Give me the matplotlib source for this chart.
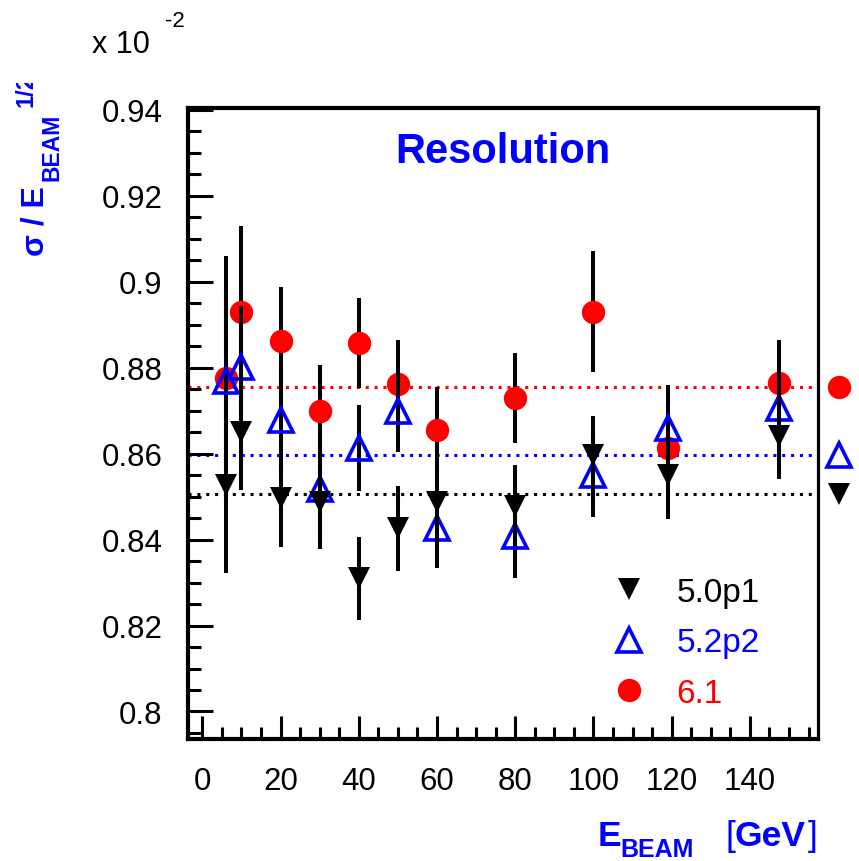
import matplotlib
matplotlib.use("Agg")
import matplotlib.pyplot as plt
from matplotlib.lines import Line2D
from matplotlib.patches import Rectangle
from matplotlib.ticker import MultipleLocator, FixedLocator, FuncFormatter
import numpy as np

plt.rcParams['font.family'] = ['Liberation Sans', 'DejaVu Sans']

# ---------------- data ----------------
energy = [6, 10, 20, 30, 40, 50, 60, 80, 100, 119, 147.5]

res_61 = [0.8775, 0.8929, 0.8863, 0.8698, 0.8857, 0.8762, 0.8656, 0.8729, 0.8930, 0.8612, 0.8764]
err_61 = [0.0285, 0.0200, 0.0124, 0.0107, 0.0105, 0.0102, 0.0100, 0.0104, 0.0141, 0.0090, 0.0101]

res_52 = [0.8770, 0.8801, 0.8679, 0.8518, 0.8613, 0.8698, 0.8428, 0.8409, 0.8551, 0.8660, 0.8705]
err_52 = [0.0210, 0.0142, 0.0110, 0.0105, 0.0099, 0.0095, 0.0094, 0.0098, 0.0099, 0.0100, 0.0095]

res_50 = [0.8527, 0.8651, 0.8496, 0.8488, 0.8310, 0.8426, 0.8488, 0.8479, 0.8596, 0.8550, 0.8641]
err_50 = [0.0204, 0.0135, 0.0113, 0.0109, 0.0097, 0.0099, 0.0100, 0.0095, 0.0092, 0.0102, 0.0100]

# mean (fit) values, shown as dotted lines and as markers beyond the frame
mean_61 = 0.8754
mean_52 = 0.8596
mean_50 = 0.8505
fit_energy = 162.7

labels = ['5.0p1', '5.2p2', '6.1']
x_ticks = [0, 20, 40, 60, 80, 100, 120, 140]
y_ticks = [0.80, 0.82, 0.84, 0.86, 0.88, 0.90, 0.92, 0.94]

# ---------------- figure ----------------
W, H = 859, 862
fig = plt.figure(figsize=(W / 100, H / 100), dpi=100)


def fx(px):
    return px / W


def fy(py):
    return 1 - py / H


L, R, T, B = 187.5, 818.3, 108.8, 740.3
ax = fig.add_axes([fx(L), fy(B), (R - L) / W, (B - T) / H])
ax.set_xlim(-3.8, 157.5)
ax.set_ylim(0.79353, 0.94044)

RED = (1, 0, 0)
BLUE = (0, 0, 1)
BLACK = (0, 0, 0)

dot = (0, (1.0, 1.9))
ax.axhline(mean_61, color=RED, lw=2.2, ls=dot, zorder=1.5)
ax.axhline(mean_52, color=BLUE, lw=2.2, ls=dot, zorder=1.5)
ax.axhline(mean_50, color=BLACK, lw=2.2, ls=dot, zorder=1.5)

eb = dict(ecolor='black', elinewidth=2.9, capsize=0, linestyle='none')
ax.errorbar(energy, res_61, yerr=err_61, marker='o', ms=16.8, mfc=RED, mec=RED,
            mew=0, zorder=3, **eb)
ax.errorbar(energy, res_52, yerr=err_52, marker='^', ms=17.5, mfc='none', mec=BLUE,
            mew=2.6, zorder=4, **eb)
ax.errorbar(energy, res_50, yerr=err_50, marker='v', ms=16.2, mfc=BLACK, mec=BLACK,
            mew=0, zorder=5, **eb)

ax.plot([fit_energy], [mean_61], marker='o', ms=16.8, mfc=RED, mec=RED, mew=0,
        ls='none', clip_on=False, zorder=3)
ax.plot([fit_energy], [mean_52], marker='^', ms=17.5, mfc='none', mec=BLUE, mew=2.6,
        ls='none', clip_on=False, zorder=4)
ax.plot([fit_energy], [mean_50], marker='v', ms=16.2, mfc=BLACK, mec=BLACK, mew=0,
        ls='none', clip_on=False, zorder=5)

# ---------------- axes styling ----------------
for side in ['left', 'bottom', 'top']:
    ax.spines[side].set_linewidth(3.0)
ax.spines['right'].set_linewidth(2.3)

ax.xaxis.set_major_locator(FixedLocator(x_ticks))
ax.xaxis.set_minor_locator(MultipleLocator(5))
ax.yaxis.set_major_locator(FixedLocator(y_ticks))
ax.yaxis.set_minor_locator(MultipleLocator(0.005))
ax.yaxis.set_major_formatter(FuncFormatter(lambda v, p: '%g' % round(v, 3)))
ax.xaxis.set_major_formatter(FuncFormatter(lambda v, p: '%g' % v))

ax.tick_params(axis='both', which='both', direction='in', top=False, right=False,
               width=2.2, labelsize=22.5)
ax.tick_params(axis='x', which='major', length=16.5, pad=19)
ax.tick_params(axis='x', which='minor', length=8.6)
ax.tick_params(axis='y', which='major', length=18, pad=18)
ax.tick_params(axis='y', which='minor', length=9.4)

# ---------------- legend ----------------
handles = [
    Line2D([], [], marker='v', ms=16.2, mfc=BLACK, mec=BLACK, mew=0, ls='none'),
    Line2D([], [], marker='^', ms=17.5, mfc='none', mec=BLUE, mew=2.6, ls='none'),
    Line2D([], [], marker='o', ms=16.8, mfc=RED, mec=RED, mew=0, ls='none'),
]
leg = ax.legend(handles, labels, loc='upper left',
                bbox_to_anchor=(fx(613), fy(578)), bbox_transform=fig.transFigure,
                frameon=False, fontsize=24, handlelength=0.95, handletextpad=0.95,
                labelspacing=0.58, borderpad=0, borderaxespad=0)
for t, c in zip(leg.get_texts(), [BLACK, BLUE, RED]):
    t.set_color(c)

# ---------------- texts ----------------
fig.text(fx(503), fy(163), 'Resolution', ha='center', va='baseline',
         fontsize=30, fontweight='bold', color=BLUE)

fig.text(fx(92), fy(53), 'x 10', ha='left', va='baseline', fontsize=22)
fig.text(fx(165), fy(27), '-2', ha='left', va='baseline', fontsize=16)

# x axis label
fig.text(fx(598), fy(846), 'E', ha='left', va='baseline', fontsize=25.5,
         fontweight='bold', color=BLUE)
fig.text(fx(620), fy(857), 'BEAM', ha='left', va='baseline', fontsize=18,
         fontweight='bold', color=BLUE)
fig.text(fx(725), fy(846), '[', ha='left', va='baseline', fontsize=25.5, color=BLUE)
fig.text(fx(735), fy(846), 'GeV', ha='left', va='baseline', fontsize=25.5,
         fontweight='bold', color=BLUE)
fig.text(fx(808), fy(846), ']', ha='left', va='baseline', fontsize=25.5, color=BLUE)

# y axis label (rotated; its end is cut off at the top as in the original)
ylab = [
    (fx(43), fy(256), '\u03c3 / E', 23),
    (fx(58), fy(181), 'BEAM', 16.5),
    (fx(33), fy(107), '1/2', 17),
]
for xx, yy, s, fs in ylab:
    fig.text(xx, yy, s, rotation=90, rotation_mode='anchor', ha='left',
             va='baseline', fontsize=fs, fontweight='bold', color=BLUE, zorder=3)
fig.add_artist(Rectangle((0, fy(84)), fx(75), 1 - fy(84), transform=fig.transFigure,
                         facecolor='white', edgecolor='none', zorder=10))

fig.savefig('out.png', dpi=100)
